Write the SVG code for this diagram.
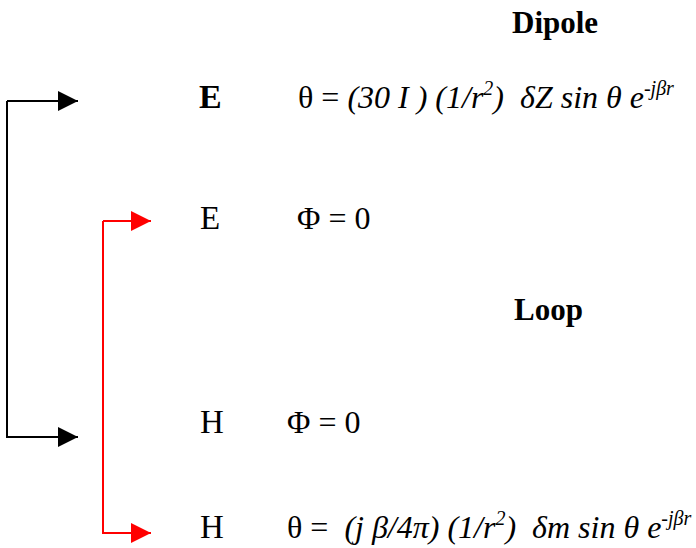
<svg xmlns="http://www.w3.org/2000/svg" width="696" height="548" viewBox="0 0 696 548">
<style>
text{font-family:"Liberation Serif","Times New Roman",serif;fill:#000;white-space:pre}
.b{font-weight:bold}
.lab{font-size:33px}
.eq{font-size:32px}
.i{font-style:italic}
.k{stroke:#000;stroke-width:2;fill:none}
.r{stroke:#ff0000;stroke-width:2;fill:none}
</style>
<defs>
<marker id="ak" markerWidth="20" markerHeight="20" refX="20" refY="10" orient="auto" markerUnits="userSpaceOnUse" viewBox="0 0 20 20"><path d="M0,0 L20,10 L0,20 Z" fill="#000"/></marker>
<marker id="ar" markerWidth="20" markerHeight="20" refX="20" refY="10" orient="auto" markerUnits="userSpaceOnUse" viewBox="0 0 20 20"><path d="M0,0 L20,10 L0,20 Z" fill="#ff0000"/></marker>
</defs>
<g id="connectors">
<path class="k" d="M7,101 H78" marker-end="url(#ak)"/>
<path class="k" d="M7,101 V437 H78" marker-end="url(#ak)"/>
<path class="r" d="M103,221 H151" marker-end="url(#ar)"/>
<path class="r" d="M103,221 V533 H151" marker-end="url(#ar)"/>
</g>
<g id="dipole-title"><text class="b" x="512" y="33" font-size="31">Dipole</text></g>
<g id="e-theta">
<text class="b" x="199" y="108" font-size="34">E</text>
<text class="eq" x="298" y="108">θ = <tspan class="i">(30 I ) (1/r</tspan><tspan class="i" font-size="20" dy="-13">2</tspan><tspan class="i" dy="13">)  δZ sin θ e</tspan><tspan class="i" font-size="20" dy="-13">-jβr</tspan></text>
</g>
<g id="e-phi">
<text class="lab" x="200" y="229">E</text>
<text class="eq" x="297" y="229">Φ = 0</text>
</g>
<g id="loop-title"><text class="b" x="514" y="320" font-size="31">Loop</text></g>
<g id="h-phi">
<text class="lab" x="200" y="433">H</text>
<text class="eq" x="287" y="433">Φ = 0</text>
</g>
<g id="h-theta">
<text class="lab" x="200" y="538">H</text>
<text class="eq" x="287" y="538">θ =  <tspan class="i">(j β/4π) (1/r</tspan><tspan class="i" font-size="20" dy="-13">2</tspan><tspan class="i" dy="13">)  δm sin θ e</tspan><tspan class="i" font-size="20" dy="-13">-jβr</tspan></text>
</g>
</svg>
